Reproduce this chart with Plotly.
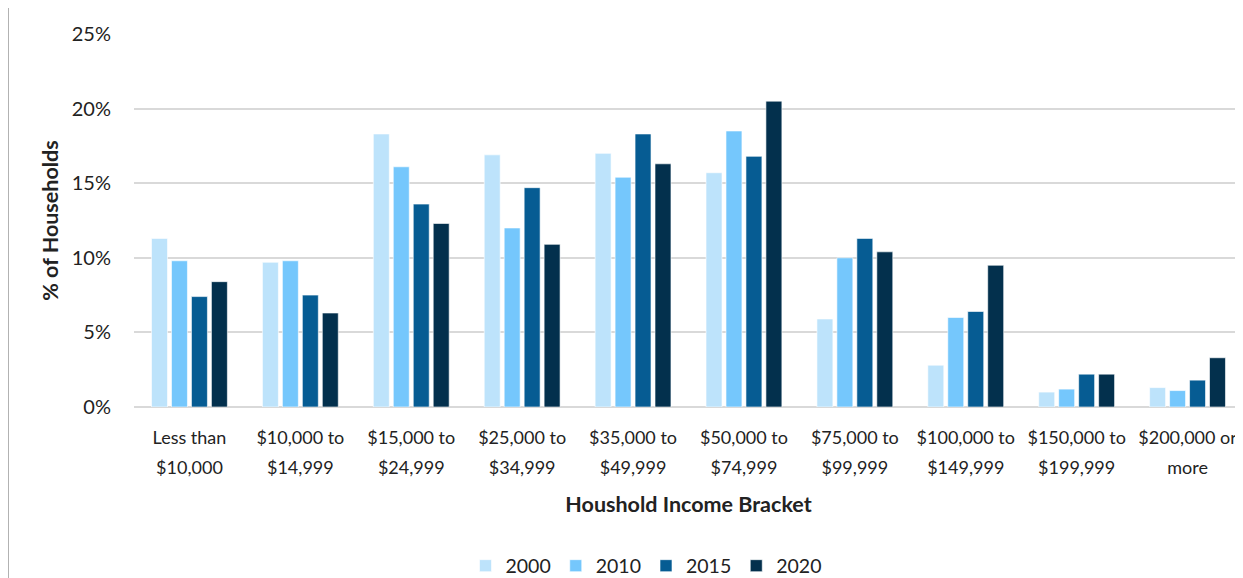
import plotly.graph_objects as go

categories = ["Less than $10,000", "$10,000 to $14,999", "$15,000 to $24,999",
              "$25,000 to $34,999", "$35,000 to $49,999", "$50,000 to $74,999",
              "$75,000 to $99,999", "$100,000 to $149,999", "$150,000 to $199,999",
              "$200,000 or more"]
label_line1 = ["Less than", "$10,000 to", "$15,000 to", "$25,000 to", "$35,000 to",
               "$50,000 to", "$75,000 to", "$100,000 to", "$150,000 to", "$200,000 or"]
label_line2 = ["$10,000", "$14,999", "$24,999", "$34,999", "$49,999",
               "$74,999", "$99,999", "$149,999", "$199,999", "more"]
y2000 = [11.3, 9.7, 18.3, 16.9, 17.0, 15.7, 5.9, 2.8, 1.0, 1.3]
y2010 = [9.8, 9.8, 16.1, 12.0, 15.4, 18.5, 10.0, 6.0, 1.2, 1.1]
y2015 = [7.4, 7.5, 13.6, 14.7, 18.3, 16.8, 11.3, 6.4, 2.2, 1.8]
y2020 = [8.4, 6.3, 12.3, 10.9, 16.3, 20.5, 10.4, 9.5, 2.2, 3.3]
series = [("2000", y2000, "#BDE3FB"), ("2010", y2010, "#75C7FC"),
          ("2015", y2015, "#065C93"), ("2020", y2020, "#03304D")]

FONT = "Lato"
OFF = 8  # page body margin
W, H = 1243 - OFF, 578 - OFF
L, R, T, B = 134 - OFF, 0, 34 - OFF, 578 - 407
PH = H - T - B
PW = W - L - R

fig = go.Figure()
for name, vals, col in series:
    fig.add_trace(go.Bar(x=categories, y=[v / 100 for v in vals], name=name,
                         marker=dict(color=col, line=dict(color="rgba(255,255,255,0.6)", width=1))))
# empty helper trace so the second-line label axis is rendered
fig.add_trace(go.Scatter(x=[], y=[], xaxis="x2", showlegend=False, hoverinfo="skip"))

n = len(categories)
xr = [-0.5, n - 0.5]
fig.update_layout(
    width=W, height=H, paper_bgcolor="white", plot_bgcolor="white",
    margin=dict(l=L, r=R, t=T, b=B, autoexpand=False),
    font=dict(family=FONT, size=18, color="#222"),
    barmode="group", bargap=0.28, bargroupgap=0.2,
    showlegend=True,
    legend=dict(orientation="h", x=(646 - 134) / PW, xanchor="center", y=(407 - 566) / PH,
                yanchor="middle", font=dict(size=19.5), traceorder="normal"),
    xaxis=dict(type="category", range=xr, showgrid=False, ticks="",
               tickmode="array", tickvals=categories, ticktext=label_line1,
               tickfont=dict(size=18), ticklabelstandoff=18, automargin=False,
               title=dict(text="<b>Houshold Income Bracket</b>", font=dict(size=21.5), standoff=49),
               showline=False),
    xaxis2=dict(type="linear", overlaying="x", anchor="y", side="bottom", range=xr,
                showgrid=False, zeroline=False, ticks="", tickmode="array",
                tickvals=list(range(n)), ticktext=label_line2, tickfont=dict(size=18),
                ticklabelstandoff=48, automargin=False, showline=False),
    yaxis=dict(range=[0, 0.25], dtick=0.05, tickformat=".0%", gridcolor="#D9D9D9", gridwidth=1.5,
               zeroline=True, zerolinecolor="#D9D9D9", zerolinewidth=1.5, ticks="",
               ticklabelstandoff=22, tickfont=dict(size=20), automargin=False,
               title=dict(text="<b>% of Households</b>", font=dict(size=21.5), standoff=7)),
    shapes=[dict(type="line", xref="paper", yref="paper", x0=-L / PW, x1=-L / PW,
                 y0=-B / PH, y1=(H - B) / PH, line=dict(color="#999", width=1.5))],
)
fig.write_html("out.html")
